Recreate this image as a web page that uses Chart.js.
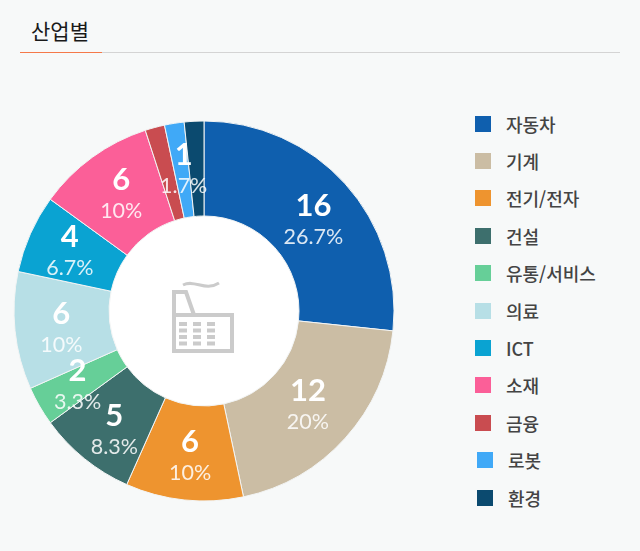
<!DOCTYPE html>
<html lang="ko">
<head>
<meta charset="utf-8">
<title>산업별</title>
<script src="https://cdn.jsdelivr.net/npm/chart.js@4"></script>
<style>
html, body { margin: 0; padding: 0; background: #f7f9f9; }
#page { position: relative; width: 640px; height: 551px; overflow: hidden; }
#title { position: absolute; left: 31px; top: 15px; font: 400 21px/30px "Noto Sans CJK KR", sans-serif; color: #1a1a1a; }
#rule { position: absolute; left: 20px; top: 52px; width: 600px; height: 1px; background: #d4d4d4; }
#rule i { position: absolute; left: 0; top: 0; width: 82px; height: 1px; background: #f5794a; }
#chartWrap { position: absolute; left: 4px; top: 111px; width: 400px; height: 400px; }
#legend { position: absolute; left: 475px; top: 105px; margin: 0; padding: 0; list-style: none; }
#legend li { height: 37.4px; display: flex; align-items: center; font: 500 18px "Noto Sans CJK KR", sans-serif; color: #444; white-space: nowrap; }
#legend li span { width: 16px; height: 16px; margin-right: 15px; flex: none; }
#legend li.shift { padding-left: 2px; }
</style>
</head>
<body>
<div id="page">
    <div id="title">산업별</div>
    <div id="rule"><i></i></div>
    <div id="chartWrap"><canvas id="industryChart" width="400" height="400"></canvas></div>
    <ul id="legend"></ul>
</div>
<script>
const categories = ['자동차', '기계', '전기/전자', '건설', '유통/서비스', '의료', 'ICT', '소재', '금융', '로봇', '환경'];
const counts = [16, 12, 6, 5, 2, 6, 4, 6, 1, 1, 1];
const percents = ['26.7%', '20%', '10%', '8.3%', '3.3%', '10%', '6.7%', '10%', '', '1.7%', ''];
const countLabels = ['16', '12', '6', '5', '2', '6', '4', '6', '', '1', ''];
const colors = ['#0f5fae', '#cbbda4', '#ee942f', '#3d6f6d', '#66cf98', '#b7dfe6', '#0aa3d2', '#fb5f98', '#c94c50', '#40a9f7', '#0b4a6f'];

// label nudges off the slice centroid, the original labels are not quite centered
const nudgeX = [3.5, -2, 1, 0, -3, -1, -4, 1, 0, 2, 0];
const nudgeY = [5.5, 0, 4, 9, 4, 3, -1, -1, 0, 0, 0];

// white hole and the factory icon in the middle
const centerIcon = {
    id: 'centerIcon',
    beforeDatasetsDraw(chart) {
        const arc = chart.getDatasetMeta(0).data[0];
        const ctx = chart.ctx;
        ctx.save();
        ctx.fillStyle = '#ffffff';
        ctx.beginPath();
        ctx.arc(arc.x, arc.y, arc.innerRadius, 0, Math.PI * 2);
        ctx.fill();
        ctx.restore();
    },
    afterDatasetsDraw(chart) {
        const ctx = chart.ctx;
        ctx.save();
        // icon was measured in page coordinates, the canvas sits at 4,111
        ctx.translate(-4, -111);
        ctx.strokeStyle = '#cbcbcb';
        ctx.fillStyle = '#cbcbcb';
        ctx.lineWidth = 4;
        ctx.beginPath();
        ctx.moveTo(174, 315);
        ctx.lineTo(174, 292);
        ctx.lineTo(186, 292);
        ctx.lineTo(194, 315);
        ctx.moveTo(174, 315);
        ctx.lineTo(232, 315);
        ctx.lineTo(232, 351);
        ctx.lineTo(174, 351);
        ctx.closePath();
        ctx.stroke();
        ctx.lineWidth = 3;
        ctx.beginPath();
        ctx.moveTo(183, 285);
        ctx.bezierCurveTo(195, 279, 205, 292, 219, 283);
        ctx.stroke();
        for (let col = 0; col < 3; col++) {
            for (let row = 0; row < 4; row++) {
                ctx.fillRect(179 + col * 14, 322 + row * 6.5, 8, 4);
            }
        }
        ctx.restore();
    }
};

// count + percent text on top of each slice
const sliceLabels = {
    id: 'sliceLabels',
    afterDraw(chart) {
        const ctx = chart.ctx;
        ctx.save();
        ctx.textAlign = 'center';
        ctx.textBaseline = 'middle';
        chart.getDatasetMeta(0).data.forEach(function (arc, i) {
            if (!countLabels[i]) return;
            const pos = arc.tooltipPosition();
            const x = pos.x + nudgeX[i];
            const y = pos.y + nudgeY[i];
            ctx.fillStyle = '#ffffff';
            ctx.font = '700 31px Lato, sans-serif';
            ctx.fillText(countLabels[i], x, y - 15);
            ctx.fillStyle = 'rgba(255,255,255,0.85)';
            ctx.font = '400 21.5px Lato, sans-serif';
            ctx.fillText(percents[i], x, y + 16);
        });
        ctx.restore();
    }
};

const industryChart = new Chart(document.getElementById('industryChart'), {
    type: 'doughnut',
    data: {
        labels: categories,
        datasets: [{
            data: counts,
            backgroundColor: colors,
            borderColor: '#f2f4f4',
            borderWidth: 1
        }]
    },
    options: {
        responsive: false,
        animation: false,
        radius: 190,
        cutout: '50%',
        plugins: {
            legend: { display: false },
            tooltip: { enabled: false }
        }
    },
    plugins: [centerIcon, sliceLabels]
});

const legend = document.getElementById('legend');
categories.forEach(function (name, i) {
    const li = document.createElement('li');
    if (i >= 9) li.className = 'shift';
    const box = document.createElement('span');
    box.style.background = colors[i];
    li.appendChild(box);
    li.appendChild(document.createTextNode(name));
    legend.appendChild(li);
});
</script>
</body>
</html>
